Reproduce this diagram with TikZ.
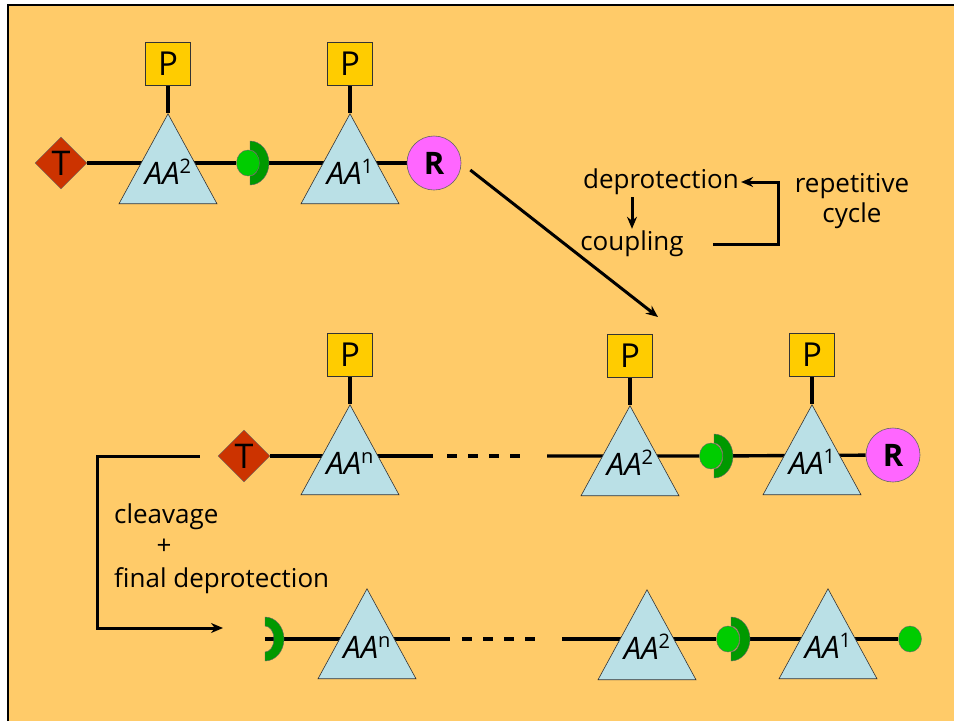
\documentclass[tikz,border=0pt]{standalone}
\usepackage{fontspec}
\setmainfont{Open Sans}
\usetikzlibrary{shapes.geometric, arrows.meta, positioning, calc}
\definecolor{SheetOrange}{HTML}{FFCB69}
\definecolor{AminoBlue}{HTML}{BAE0E6}
\definecolor{GuardYellow}{HTML}{FFCC00}
\definecolor{LinkerRed}{HTML}{CC3300}
\definecolor{ResinPink}{HTML}{FF66FF}
\definecolor{SocketGreen}{HTML}{009900}
\definecolor{BallGreen}{HTML}{00CC00}
\pgfdeclarelayer{back}
\pgfdeclarelayer{bonds}
\pgfsetlayers{back,bonds,main}
\newcommand{\aminolabel}[1]{\textit{AA}\raisebox{11pt}{\fontsize{20}{20}\selectfont #1}}
\tikzset{
  % Shape styles
  aatri/.style={isosceles triangle, isosceles triangle stretches, shape border rotate=90, minimum width=98pt, minimum height=90pt, inner sep=0pt, anchor=apex, draw=black!80, line width=0.6pt, fill=AminoBlue},
  aalabel/.style={font=\fontsize{31}{32}\selectfont, inner sep=0pt, anchor=base},
  pbox/.style={rectangle, draw=black!80, line width=0.6pt, fill=GuardYellow, minimum width=45pt, minimum height=43pt, inner sep=0pt, font=\fontsize{33}{33}\selectfont},
  linker/.style={diamond, draw=black!60, line width=0.4pt, fill=LinkerRed, minimum width=52pt, minimum height=52pt, inner sep=0pt, font=\fontsize{34}{34}\selectfont},
  resin/.style={circle, draw=black!60, line width=0.6pt, fill=ResinPink, minimum size=54pt, inner sep=0pt, font=\fontsize{31}{31}\selectfont\bfseries},
  ball/.style={ellipse, draw=black!60, line width=0.4pt, fill=BallGreen, minimum width=23pt, minimum height=26pt, inner sep=0pt},
  steptext/.style={font=\fontsize{26}{30}\selectfont, inner sep=2pt},
  % Line styles
  bond/.style={line width=3.4pt},
  stem/.style={line width=3.2pt},
  gap/.style={line width=3.4pt, dash pattern=on 10pt off 11pt},
  arrow/.style={->, >={Stealth[length=12pt, width=10pt]}, line width=3pt},
  % Half ring of the activated end
  socket/.pic={
    \fill[draw=black!60, line width=0.4pt, fill=SocketGreen] (0,22) arc[start angle=-90, end angle=90, x radius=19pt, y radius=22pt] -- (0,-13) arc[start angle=90, end angle=-90, x radius=9pt, y radius=13pt] -- cycle;
    \coordinate (-c) at (0,0);
  }
}

\begin{document}
\begin{tikzpicture}[x=1pt, y=-1pt]
  \useasboundingbox (0,0) rectangle (954,721);
  \begin{pgfonlayer}{back}
    \fill[SheetOrange] (8,5) rectangle (954,721);
    \draw[line width=2.6pt] (8,721) -- (8,5) -- (954,5);
  \end{pgfonlayer}

  % Starting dipeptide on resin
  \node[linker] (tA) at (61,163) {T};
  \node[aatri] (aA2) at (168,113) {};
  \node[aalabel] (lA2) at (168,184) {\aminolabel{2}};
  \node[pbox, above=27pt of aA2.apex] (pA2) {P};
  \pic (sA) at (250,163) {socket};
  \node[ball] (bA) at (248,163) {};
  \node[aatri] (aA1) at (350,113) {};
  \node[aalabel] (lA1) at (350,184) {\aminolabel{1}};
  \node[pbox, above=27pt of aA1.apex] (pA1) {P};
  \node[resin] (rA) at (434,163) {R};

  % Repetitive cycle
  \node[steptext] (dep) at (661,182) {deprotection};
  \node[steptext] (cpl) at (632,244) {coupling};
  \node[steptext, align=center] (rep) at (852,201) {repetitive\\cycle};
  \coordinate (loop) at (778,244);
  \coordinate (land) at (658,317);
  \draw[arrow] (dep.south -| cpl) -- (cpl);
  \draw[arrow] ([xshift=27pt]cpl.east) -- (loop) |- (dep.east);
  \draw[arrow] ([xshift=9pt, yshift=-7pt]rA.east) -- (land);

  % Protected chain on resin
  \node[linker] (tB) at (244,456) {T};
  \node[aatri] (aBn) at (350,404) {};
  \node[aalabel] (lBn) at (350,474) {\aminolabel{n}};
  \node[pbox, above=27pt of aBn.apex] (pBn) {P};
  \coordinate (gB1) at (433,456);
  \coordinate (gB2) at (547,456);
  \node[aatri] (aB2) at (630,405) {};
  \node[aalabel] (lB2) at (630,475) {\aminolabel{2}};
  \node[pbox, above=27pt of aB2.apex] (pB2) {P};
  \pic (sB) at (714,456) {socket};
  \node[ball] (bB) at (711,456) {};
  \node[aatri] (aB1) at (812,404) {};
  \node[aalabel] (lB1) at (812,474) {\aminolabel{1}};
  \node[pbox, above=27pt of aB1.apex] (pB1) {P};
  \node[resin] (rB) at (893,455) {R};

  % Cleavage
  \node[steptext, anchor=base west] (clv) at (112,523) {cleavage};
  \node[steptext] (plus) at (164,547) {+};
  \node[steptext, anchor=base west] (fin) at (112,587) {final deprotection};
  \coordinate (turn) at (97,628);
  \coordinate (cut) at (223,628);
  \draw[arrow] ([xshift=-18pt]tB.west) -| (turn) -- (cut);

  % Free peptide
  \pic (sC0) at (265,639) {socket};
  \node[aatri] (aCn) at (367,588) {};
  \node[aalabel] (lCn) at (367,658) {\aminolabel{n}};
  \coordinate (gC1) at (450,639);
  \coordinate (gC2) at (562,639);
  \node[aatri] (aC2) at (647,589) {};
  \node[aalabel] (lC2) at (647,659) {\aminolabel{2}};
  \pic (sC) at (731,639) {socket};
  \node[ball] (bC) at (728,639) {};
  \node[aatri] (aC1) at (828,588) {};
  \node[aalabel] (lC1) at (828,658) {\aminolabel{1}};
  \node[ball] (eC) at (910,639) {};

  \begin{pgfonlayer}{bonds}
    \draw[bond] (tA) -- (bA) -- (rA);
    \draw[stem] (pA2) -- (aA2.apex);
    \draw[stem] (pA1) -- (aA1.apex);
    \draw[bond] (tB) -- (gB1);
    \draw[gap] ([xshift=14pt]gB1) -- ([xshift=-26pt]gB2);
    \draw[bond] (gB2) -- (bB) -- (rB);
    \draw[stem] (pBn) -- (aBn.apex);
    \draw[stem] (pB2) -- (aB2.apex);
    \draw[stem] (pB1) -- (aB1.apex);
    \draw[bond] (sC0-c) -- (gC1);
    \draw[gap] ([xshift=12pt]gC1) -- ([xshift=-25pt]gC2);
    \draw[bond] (gC2) -- (bC) -- (eC);
  \end{pgfonlayer}
\end{tikzpicture}
\end{document}
